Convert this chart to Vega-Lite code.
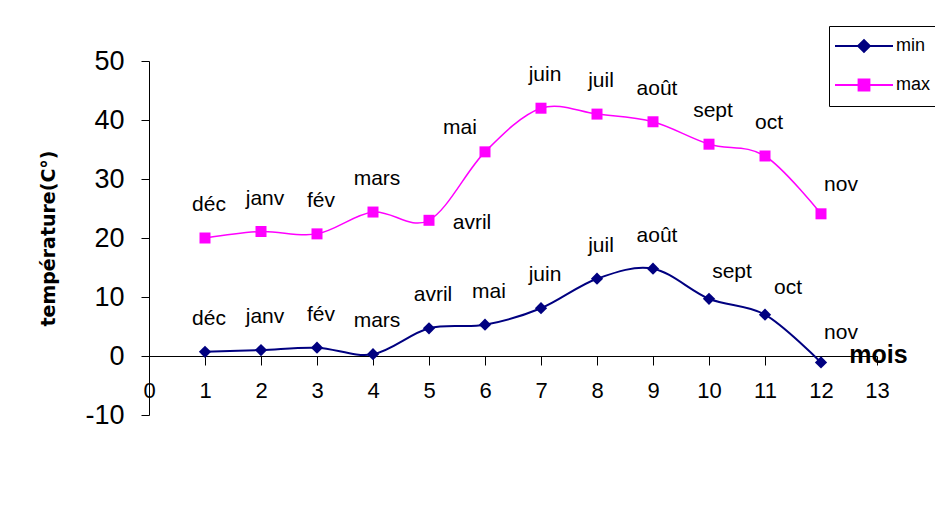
{
  "$schema": "https://vega.github.io/schema/vega-lite/v6.json",
  "autosize": {"type": "none"},
  "width": 728,
  "height": 354,
  "padding": {"left": 149, "top": 61, "right": 58, "bottom": 105},
  "background": "white",
  "config": {"view": {"stroke": null}, "font": "Liberation Sans"},
  "data": {"values": [
    {"x": 1, "mois": "déc", "serie": "min", "temp": 0.7},
    {"x": 2, "mois": "janv", "serie": "min", "temp": 1.0},
    {"x": 3, "mois": "fév", "serie": "min", "temp": 1.4},
    {"x": 4, "mois": "mars", "serie": "min", "temp": 0.3},
    {"x": 5, "mois": "avril", "serie": "min", "temp": 4.7},
    {"x": 6, "mois": "mai", "serie": "min", "temp": 5.3},
    {"x": 7, "mois": "juin", "serie": "min", "temp": 8.1},
    {"x": 8, "mois": "juil", "serie": "min", "temp": 13.1},
    {"x": 9, "mois": "août", "serie": "min", "temp": 14.8},
    {"x": 10, "mois": "sept", "serie": "min", "temp": 9.7},
    {"x": 11, "mois": "oct", "serie": "min", "temp": 7.0},
    {"x": 12, "mois": "nov", "serie": "min", "temp": -1.1},
    {"x": 1, "mois": "déc", "serie": "max", "temp": 20.0},
    {"x": 2, "mois": "janv", "serie": "max", "temp": 21.1},
    {"x": 3, "mois": "fév", "serie": "max", "temp": 20.7},
    {"x": 4, "mois": "mars", "serie": "max", "temp": 24.4},
    {"x": 5, "mois": "avril", "serie": "max", "temp": 23.0},
    {"x": 6, "mois": "mai", "serie": "max", "temp": 34.6},
    {"x": 7, "mois": "juin", "serie": "max", "temp": 42.0},
    {"x": 8, "mois": "juil", "serie": "max", "temp": 41.0},
    {"x": 9, "mois": "août", "serie": "max", "temp": 39.7},
    {"x": 10, "mois": "sept", "serie": "max", "temp": 35.9},
    {"x": 11, "mois": "oct", "serie": "max", "temp": 33.9},
    {"x": 12, "mois": "nov", "serie": "max", "temp": 24.1}
  ]},
  "encoding": {
    "x": {"field": "x", "type": "quantitative",
      "scale": {"domain": [0, 13], "nice": false, "zero": false},
      "axis": {"values": [0,1,2,3,4,5,6,7,8,9,10,11,12,13], "format": "d", "offset": -59, "labelFlush": false, "labelOverlap": false,
        "grid": false, "domainColor": "black", "tickColor": "black", "tickSize": 9,
        "labelColor": "black", "labelFontSize": 22, "labelPadding": 15, "labelFont": "Liberation Sans",
        "title": "mois", "titleFontSize": 25, "titleFontWeight": "bold", "titleColor": "black", "titleFont": "Liberation Sans",
        "titleX": 729, "titleY": -2, "titleAlign": "center", "titleBaseline": "middle"}},
    "y": {"field": "temp", "type": "quantitative",
      "scale": {"domain": [-10, 50], "nice": false, "zero": false},
      "axis": {"values": [-10,0,10,20,30,40,50], "labelExpr": "toString(datum.value)", "grid": false, "domainColor": "black", "tickColor": "black",
        "tickSize": 8, "labelColor": "black", "labelFontSize": 27, "labelPadding": 17, "labelFont": "Liberation Sans",
        "title": "température(C°)", "titleFontSize": 19, "titleFontWeight": "bold", "titleColor": "black", "titleFont": "DejaVu Sans",
        "titleX": -101, "titleY": 177, "titleAlign": "center", "titleBaseline": "middle", "titleAngle": 270}}
  },
  "layer": [
    {
      "mark": {"type": "line", "interpolate": "cardinal"},
      "encoding": {
        "color": {"field": "serie", "type": "nominal",
          "scale": {"domain": ["min", "max"], "range": ["#000080", "#ff00ff"]},
          "legend": {"orient": "none", "legendX": 680, "legendY": -35, "title": null,
            "labelFontSize": 18, "labelFont": "Liberation Sans", "labelColor": "black",
            "padding": 11, "rowPadding": 19, "symbolSize": 100, "symbolOffset": 15, "labelOffset": 23,
            "strokeColor": "black", "fillColor": "white", "symbolStrokeWidth": 1.8,
            "encode": {"symbols": {"update": {
              "shape": {"signal": "datum.value === 'min' ? 'M-5.8,0H5.8M-1.2,0L0,-1.2L1.2,0L0,1.2Z' : 'M-5.8,0H5.8M-1.1,-1.1H1.1V1.1H-1.1Z'"},
              "fill": {"scale": "color", "field": "value"},
              "stroke": {"scale": "color", "field": "value"},
              "strokeWidth": {"value": 1.8},
              "opacity": {"value": 1}
            }}}}},
        "strokeWidth": {"condition": {"test": "datum.serie === 'min'", "value": 2}, "value": 1.5}
      }
    },
    {
      "transform": [{"filter": "datum.serie === 'min'"}],
      "mark": {"type": "point", "shape": "diamond", "filled": true, "size": 150, "opacity": 1, "color": "#000080"}
    },
    {
      "transform": [{"filter": "datum.serie === 'max'"}],
      "mark": {"type": "point", "shape": "square", "filled": true, "size": 121, "opacity": 1, "color": "#ff00ff"}
    },
    {
      "transform": [{"filter": "!(datum.mois === 'nov' || (datum.serie === 'max' && (datum.mois === 'avril' || datum.mois === 'mai')) || (datum.serie === 'min' && (datum.mois === 'sept' || datum.mois === 'oct')))"}],
      "mark": {"type": "text", "fontSize": 21, "font": "Liberation Sans", "color": "black", "dx": 4, "dy": -33, "align": "center", "baseline": "middle"},
      "encoding": {"text": {"field": "mois"}}
    },
    {
      "transform": [{"filter": "datum.mois === 'nov'"}],
      "mark": {"type": "text", "fontSize": 21, "font": "Liberation Sans", "color": "black", "dx": 20, "dy": -29, "align": "center", "baseline": "middle"},
      "encoding": {"text": {"field": "mois"}}
    },
    {
      "transform": [{"filter": "datum.serie === 'min' && (datum.mois === 'sept' || datum.mois === 'oct')"}],
      "mark": {"type": "text", "fontSize": 21, "font": "Liberation Sans", "color": "black", "dx": 23, "dy": -27, "align": "center", "baseline": "middle"},
      "encoding": {"text": {"field": "mois"}}
    },
    {
      "transform": [{"filter": "datum.serie === 'max' && datum.mois === 'avril'"}],
      "mark": {"type": "text", "fontSize": 21, "font": "Liberation Sans", "color": "black", "dx": 43, "dy": 3, "align": "center", "baseline": "middle"},
      "encoding": {"text": {"field": "mois"}}
    },
    {
      "transform": [{"filter": "datum.serie === 'max' && datum.mois === 'mai'"}],
      "mark": {"type": "text", "fontSize": 21, "font": "Liberation Sans", "color": "black", "dx": -25, "dy": -24, "align": "center", "baseline": "middle"},
      "encoding": {"text": {"field": "mois"}}
    }
  ]
}
